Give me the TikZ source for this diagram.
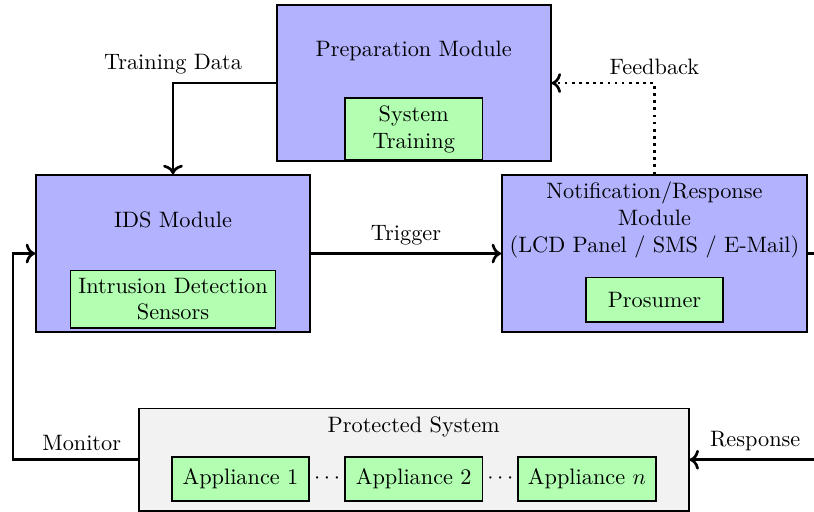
\documentclass[tikz,border=0pt]{standalone}
\usepackage{xcolor}
\usepackage{tikz}
\usetikzlibrary{arrows.meta, positioning, calc}

\begin{document}
\begin{tikzpicture}[>=To,
        module/.style={rectangle, draw, thick, fill=blue!30, minimum width=4.32cm, minimum height=2.47cm},
        part/.style={rectangle, draw, thick, fill=green!30, align=center, minimum width=2.17cm, minimum height=0.7cm},
        title/.style={align=center},
        gap/.style={inner sep=0pt, minimum width=0.52cm},
        flow/.style={->, very thick}]

        \useasboundingbox (-2.728,-4.061) rectangle (10.109,3.998);

        % modules
        \node (ids) [module] {};
        \node (notif) [module, minimum width=4.81cm, right=3.0cm of ids] {};
        \coordinate (topmid) at ($(ids.north)!0.5!(notif.north)$);
        \coordinate (botmid) at ($(ids.south)!0.5!(notif.south)$);
        \node (prep) [module, above=0.19cm of topmid] {};
        \node (prot) [module, fill=gray!10, minimum width=8.67cm, minimum height=1.62cm, below=1.18cm of botmid] {};

        \node (prepTitle) [title] at ([yshift=0.51cm]prep.center) {Preparation Module};
        \node (idsTitle) [title] at ([yshift=0.53cm]ids.center) {IDS Module};
        \node (notifTitle) [title] at ([yshift=0.53cm]notif.center) {Notification/Response\\Module\\(LCD Panel / SMS / E-Mail)};
        \node (protTitle) [title] at ([yshift=0.52cm]prot.center) {Protected System};

        % parts
        \node (train) [part] at ([yshift=-0.73cm]prep.center) {System\\Training};
        \node (sensors) [part, minimum width=3.23cm] at ([yshift=-0.72cm]ids.center) {Intrusion Detection\\Sensors};
        \node (prosumer) [part] at ([yshift=-0.73cm]notif.center) {Prosumer};

        \node (app2) [part] at ([yshift=-0.30cm]prot.center) {Appliance 2};
        \node (dots1) [gap, left=0pt of app2] {$\cdots$};
        \node (app1) [part, left=0pt of dots1] {Appliance 1};
        \node (dots2) [gap, right=0pt of app2] {$\cdots$};
        \node (appn) [part, right=0pt of dots2] {Appliance $n$};

        % connectors
        \draw[flow] (prep.west) -| node[above] {Training Data} (ids.north);
        \draw[flow] (ids.east) -- node[above] {Trigger} (notif.west);
        \draw[flow, dotted] (notif.north) |- node[above] {Feedback} (prep.east);
        \coordinate (respR) at ($(notif.east)+(0.6,0)$);
        \draw[flow] (notif.east) -- (respR) |- node[pos=0.79, above] {Response} (prot.east);
        \coordinate (monL) at ($(ids.west |- prot.west)+(-0.35,0)$);
        \draw[flow] (prot.west) -- node[pos=0.45, above] {Monitor} (monL) |- (ids.west);
    \end{tikzpicture}
\end{document}
